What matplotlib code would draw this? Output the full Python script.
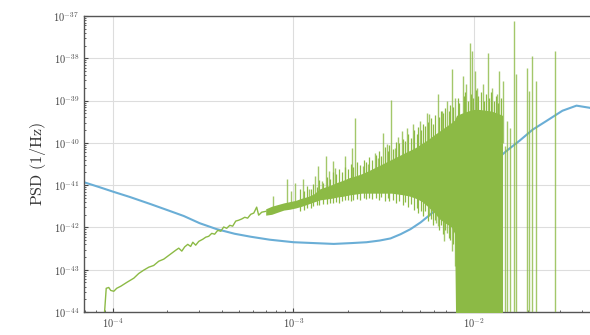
import numpy as np
import matplotlib
matplotlib.use("Agg")
import matplotlib.pyplot as plt
from matplotlib import ticker

# Noise model PSD (log10 f, log10 PSD)
noise_logf = [-4.162, -4.074, -3.996, -3.907, -3.791, -3.686, -3.608, -3.520, -3.426,
              -3.326, -3.237, -3.132, -2.999, -2.888, -2.777, -2.678, -2.595, -2.522,
              -2.462, -2.406, -2.351, -2.295, -2.240, -2.168, -2.079, -1.969, -1.897,
              -1.819, -1.747, -1.675, -1.597, -1.509, -1.431, -1.359, -1.304]
noise_logpsd = [-40.93, -41.05, -41.16, -41.28, -41.45, -41.61, -41.73, -41.90, -42.04,
                -42.15, -42.22, -42.29, -42.35, -42.37, -42.39, -42.37, -42.35, -42.31,
                -42.26, -42.16, -42.04, -41.88, -41.69, -41.42, -41.12, -40.74, -40.48,
                -40.19, -39.95, -39.69, -39.48, -39.24, -39.12, -39.17, -39.24]

# Signal periodogram, low-frequency part
sig_logf = [-4.052, -4.038, -4.024, -4.013, -3.996, -3.980, -3.957, -3.924, -3.885,
            -3.858, -3.830, -3.802, -3.775, -3.747, -3.719, -3.697, -3.675, -3.653,
            -3.636, -3.619, -3.603, -3.586, -3.570, -3.558, -3.542, -3.525, -3.503,
            -3.486, -3.470, -3.453, -3.437, -3.420, -3.403, -3.387, -3.370, -3.353,
            -3.337, -3.320, -3.304, -3.287, -3.270, -3.254, -3.237, -3.220, -3.204,
            -3.193, -3.176, -3.154]
sig_logpsd = [-44.30, -43.44, -43.42, -43.49, -43.51, -43.44, -43.39, -43.30, -43.20,
              -43.09, -43.01, -42.94, -42.90, -42.80, -42.75, -42.68, -42.61, -42.54,
              -42.49, -42.56, -42.46, -42.40, -42.45, -42.35, -42.42, -42.33, -42.28,
              -42.23, -42.21, -42.14, -42.16, -42.07, -42.09, -41.99, -42.02, -41.95,
              -41.97, -41.85, -41.83, -41.80, -41.76, -41.78, -41.69, -41.66, -41.52,
              -41.71, -41.64, -41.62]

# Dense part of the periodogram: lower / upper bounds of the noise band
band_logf = [-3.154, -3.121, -3.088, -3.054, -3.021, -2.988, -2.955, -2.921, -2.888,
             -2.855, -2.822, -2.788, -2.755, -2.722, -2.689, -2.655, -2.622, -2.589,
             -2.556, -2.522, -2.489, -2.456, -2.423, -2.390, -2.356, -2.323, -2.290,
             -2.257, -2.223, -2.190, -2.157, -2.124, -2.107, -2.096, -2.068, -2.035,
             -2.002, -1.969, -1.935, -1.902, -1.869, -1.841]
band_hi = [-41.56, -41.50, -41.46, -41.42, -41.39, -41.36, -41.31, -41.27, -41.21,
           -41.09, -41.04, -40.99, -40.93, -40.88, -40.82, -40.78, -40.73, -40.67,
           -40.60, -40.53, -40.46, -40.39, -40.32, -40.25, -40.18, -40.11, -40.02,
           -39.93, -39.82, -39.72, -39.62, -39.52, -39.46, -39.35, -39.30, -39.25,
           -39.21, -39.21, -39.23, -39.25, -39.30, -39.35]
band_lo = [-41.71, -41.69, -41.64, -41.59, -41.57, -41.54, -41.50, -41.45, -41.40,
           -41.35, -41.33, -41.31, -41.28, -41.26, -41.23, -41.21, -41.19, -41.19,
           -41.19, -41.19, -41.19, -41.19, -41.21, -41.23, -41.26, -41.31, -41.38,
           -41.50, -41.64, -41.80, -41.90, -41.99, -42.14, -46.0, -46.0, -46.0,
           -46.0, -46.0, -46.0, -46.0, -46.0, -46.0]

# Fine structure along the band edges
fringe_logf = [-2.962, -2.940, -2.925, -2.905, -2.892, -2.870, -2.858, -2.838, -2.815,
               -2.798, -2.780, -2.762, -2.748, -2.730, -2.712, -2.695, -2.683, -2.668,
               -2.648, -2.632, -2.610, -2.598, -2.580, -2.565, -2.545, -2.528, -2.515,
               -2.495, -2.478, -2.468, -2.450, -2.432, -2.415, -2.395, -2.382, -2.365,
               -2.350, -2.332, -2.318, -2.308, -2.292, -2.280, -2.270, -2.255, -2.238,
               -2.228, -2.218, -2.195, -2.185, -2.172, -2.160, -2.140, -2.132, -2.116,
               -2.090, -2.080, -2.055, -2.048, -2.030, -2.018, -2.005, -1.990, -1.975,
               -1.962, -1.945, -1.935, -1.915, -1.905, -1.888, -1.880, -1.865, -1.850]
fringe_lo = [-41.62, -41.58, -41.55, -41.55, -41.50, -41.48, -41.46, -41.45, -41.44,
             -41.43, -41.42, -41.40, -41.42, -41.38, -41.36, -41.35, -41.38, -41.34,
             -41.32, -41.34, -41.30, -41.32, -41.30, -41.33, -41.30, -41.36, -41.28,
             -41.37, -41.30, -41.38, -41.35, -41.42, -41.38, -41.46, -41.40, -41.52,
             -41.45, -41.58, -41.55, -41.66, -41.60, -41.74, -41.62, -41.85, -41.80,
             -41.95, -41.82, -42.05, -41.95, -42.15, -42.05, -42.25, -42.30, -42.40,
             -40.00, -40.00, -40.00, -40.00, -40.00, -40.00, -40.00, -40.00, -40.00,
             -40.00, -40.00, -40.00, -40.00, -40.00, -40.00, -40.00, -40.00, -40.00]
fringe_hi = [-41.10, -41.15, -41.02, -41.08, -40.98, -41.05, -40.88, -40.95, -40.80,
             -40.85, -40.70, -40.74, -40.62, -40.70, -40.58, -40.62, -40.50, -40.58,
             -40.45, -40.52, -40.40, -40.45, -40.33, -40.40, -40.28, -40.20, -40.30,
             -40.10, -40.20, -40.05, -40.15, -39.98, -40.00, -39.90, -39.95, -39.78,
             -39.88, -39.70, -39.80, -39.62, -39.70, -39.55, -39.60, -39.50, -39.42,
             -39.55, -39.35, -39.40, -39.25, -39.30, -39.18, -39.25, -39.10, -39.15,
             -38.95, -39.05, -38.90, -38.80, -39.00, -38.85, -38.95, -38.75, -38.90,
             -38.80, -39.00, -38.85, -38.95, -38.80, -39.00, -38.90, -39.05, -38.95]

# Individual periodogram spikes
spike_logf = [-3.115, -3.038, -3.016, -2.993, -2.949, -2.916, -2.883, -2.866, -2.844,
              -2.822, -2.805, -2.783, -2.772, -2.716, -2.678, -2.661, -2.617, -2.589,
              -2.550, -2.534, -2.506, -2.484, -2.462, -2.439, -2.423, -2.401, -2.373,
              -2.340, -2.301, -2.262, -2.246, -2.212, -2.201, -2.179, -2.168, -2.151,
              -2.124, -2.107, -2.063, -2.041, -2.024, -2.013, -1.996, -1.980, -1.952,
              -1.924, -1.897, -1.874, -1.858, -1.841, -1.830, -1.819, -1.802, -1.775,
              -1.764, -1.708, -1.692, -1.680, -1.658, -1.551]
spike_lo = [-41.61, -41.50, -41.47, -41.45, -41.38, -41.35, -41.30, -41.30, -41.28,
            -41.25, -41.25, -41.20, -41.20, -41.10, -41.05, -41.00, -41.00, -40.95,
            -40.90, -40.90, -40.85, -40.80, -40.80, -40.75, -40.70, -40.70, -40.60,
            -40.55, -40.50, -40.45, -41.73, -41.90, -41.97, -40.40, -42.33, -42.14,
            -42.56, -42.92, -40.00, -40.00, -40.00, -40.00, -40.00, -40.00, -40.00,
            -40.00, -40.00, -40.00, -40.00, -40.00, -46.00, -46.00, -46.00, -46.00,
            -46.00, -46.00, -46.00, -46.00, -46.00, -46.00]
spike_hi = [-41.26, -40.86, -41.14, -40.95, -40.86, -41.09, -40.78, -40.55, -40.90,
            -40.31, -40.67, -40.43, -40.59, -40.31, -40.12, -39.41, -40.55, -40.50,
            -40.24, -40.36, -39.76, -40.02, -38.98, -40.12, -39.86, -39.72, -39.65,
            -39.55, -39.48, -39.29, -39.31, -40.00, -38.84, -39.24, -40.00, -39.00,
            -38.25, -38.93, -38.41, -38.60, -37.65, -37.82, -38.29, -38.70, -38.60,
            -37.87, -38.70, -38.84, -38.29, -38.53, -40.07, -39.48, -39.65, -37.11,
            -38.36, -38.22, -38.77, -37.94, -38.53, -37.82]

y_decades = [-44, -43, -42, -41, -40, -39, -38, -37]

blue = "#6aaed6"
green = "#8cba45"

plt.rcParams["mathtext.fontset"] = "cm"

fig = plt.figure(figsize=(5.9, 3.35), dpi=100)
ax = fig.add_axes([84 / 590, 23 / 335, 522 / 590, 296 / 335])

ax.plot(10 ** np.array(noise_logf), 10 ** np.array(noise_logpsd), color=blue, lw=1.5, zorder=2)

ax.plot(10 ** np.array(sig_logf), 10 ** np.array(sig_logpsd), color=green, lw=1.0, zorder=3)
ax.fill_between(10 ** np.array(band_logf), 10 ** np.array(band_lo), 10 ** np.array(band_hi),
                color=green, lw=0, zorder=3)
ax.vlines(10 ** np.array(fringe_logf), 10 ** np.array(fringe_lo), 10 ** np.array(fringe_hi),
          color=green, lw=0.9, zorder=3)
ax.vlines(10 ** np.array(spike_logf), 10 ** np.array(spike_lo), 10 ** np.array(spike_hi),
          color=green, lw=1.0, alpha=0.8, zorder=3)

ax.set_xscale("log")
ax.set_yscale("log")
ax.set_xlim(6.9e-5, 0.054)
ax.set_ylim(1e-44, 1e-37)

fmt = ticker.FuncFormatter(lambda v, p: r"$10^{%d}$" % round(np.log10(v)))
ax.xaxis.set_major_formatter(fmt)
ax.set_yticks([10.0 ** d for d in y_decades])
ax.yaxis.set_major_formatter(fmt)
ax.yaxis.set_minor_formatter(ticker.NullFormatter())
ax.xaxis.set_minor_formatter(ticker.NullFormatter())
ax.tick_params(which="both", direction="in", labelsize=7.5, colors="#444444")
ax.tick_params(which="major", length=3)
ax.tick_params(which="minor", length=1.5)

ax.grid(True, which="major", color="#dddddd", lw=0.8)
ax.set_axisbelow(True)
for s in ax.spines.values():
    s.set_color("#555555")
    s.set_linewidth(1.0)

ax.set_ylabel(r"$\mathrm{PSD\ (1/Hz)}$", fontsize=11.5, color="#333333")
ax.set_xlabel(r"$\mathrm{Freq.\ (Hz)}$", fontsize=11.5, color="#333333", labelpad=2)

fig.savefig("out.png", dpi=100)
